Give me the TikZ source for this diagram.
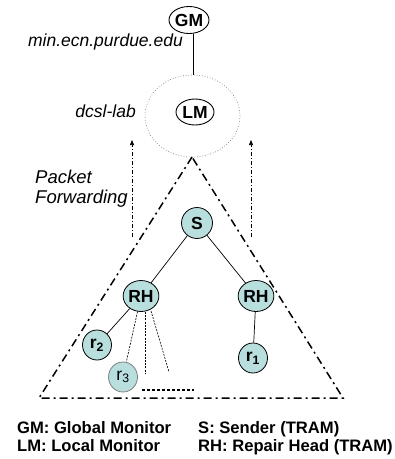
\documentclass[tikz,border=0pt]{standalone}
\usepackage{fontspec}
\setmainfont{Liberation Sans}
\usetikzlibrary{arrows.meta,shapes.geometric}
\definecolor{nodefill}{RGB}{184,222,222}
\tikzset{
  ital/.style={font=\fontsize{17.5}{17.5}\selectfont\itshape, inner sep=0pt},
  mon/.style={draw, ellipse, line width=0.9pt, fill=white, font=\fontsize{17.5}{17.5}\selectfont\bfseries, inner sep=0pt},
  tnode/.style={draw, ellipse, line width=0.8pt, fill=nodefill, font=\fontsize{17.5}{17.5}\selectfont\bfseries, inner sep=0pt},
  leg/.style={font=\fontsize{16.6}{16.6}\selectfont\bfseries, inner sep=0pt, anchor=base west},
  tri/.style={line width=1.5pt, dash pattern=on 8pt off 4pt on 2pt off 4pt},
  fwd/.style={line width=0.6pt, dash pattern=on 4pt off 2pt on 1pt off 2pt, -{Triangle[length=5pt,width=4pt]}},
  sub/.style={line width=0.6pt, dash pattern=on 2pt off 1.2pt},
}
\begin{document}
\begin{tikzpicture}[x=1pt,y=-1pt]
\useasboundingbox (0,0) rectangle (395,459);
% LM domain ellipse
\node[draw=gray, dotted, line width=0.7pt, ellipse, minimum width=95pt, minimum height=82pt, inner sep=0pt] (dom) at (192.5,116) {};
% GM
\node[mon, minimum width=40pt, minimum height=27pt] (gm) at (189,20) {GM};
\node[mon, minimum width=38pt, minimum height=26pt] (lm) at (195,112) {LM};
\draw[line width=0.7pt] (gm.south) ++(4,0) coordinate (gmb) -- (gmb |- dom.north);
\node[ital, anchor=base east] (t1) at (183,46) {min.ecn.purdue.edu};
\node[ital, anchor=base east] (t2) at (136,117) {dcsl-lab};
% forwarding arrows
\coordinate (la) at (132,237);
\coordinate (lb) at (132,140);
\coordinate (ra) at (251,237);
\coordinate (rb) at (251,140);
\draw[fwd] (la) -- (lb);
\draw[fwd] (ra) -- (rb);
\node[font=\fontsize{18.5}{20}\selectfont\itshape, align=left, anchor=base west, inner sep=0pt] (pf) at (35,203) {Packet\\Forwarding};
% triangle
\coordinate (apex) at (192,157);
\coordinate (bl) at (39,398);
\coordinate (br) at (343,398);
\draw[tri] (apex) -- (bl) -- (br) -- cycle;
% tree
\node[tnode, minimum width=31pt, minimum height=31pt] (s) at (197,223) {S};
\node[tnode, minimum width=35pt, minimum height=31pt] (rh1) at (141,296) {RH};
\node[tnode, minimum width=35pt, minimum height=31pt] (rh2) at (256,296) {RH};
\node[tnode, minimum width=29pt, minimum height=30pt] (r2) at (97,345) {r\textsubscript{2}};
\node[tnode, draw=gray, minimum width=29pt, minimum height=30pt, font=\fontsize{17.5}{17.5}\selectfont] (r3) at (123,377) {r\textsubscript{3}};
\node[tnode, minimum width=29pt, minimum height=30pt] (r1) at (253,358) {r\textsubscript{1}};
\draw[line width=0.7pt] (s) -- (rh1);
\draw[line width=0.7pt] (s) -- (rh2);
\draw[line width=0.7pt] (rh1) -- (r2);
\draw[line width=0.7pt] (rh2) -- (r1);
\coordinate (d1) at (145,373);
\coordinate (d2) at (169,372);
\draw[sub] (rh1) -- (r3);
\draw[sub] (rh1.south) ++(4,0) -- (d1);
\draw[sub] (rh1.south) ++(10,-1) -- (d2);
\coordinate (e1) at (142,390);
\coordinate (e2) at (194,390);
\draw[line width=2.5pt, dash pattern=on 2.5pt off 2.5pt] (e1) -- (e2);
% legend
\node[leg] (g1) at (17,433) {GM: Global Monitor};
\node[leg] (g2) at (17,451) {LM: Local Monitor};
\node[leg] (g3) at (198,433) {S: Sender (TRAM)};
\node[leg] (g4) at (198,451) {RH: Repair Head (TRAM)};
\end{tikzpicture}
\end{document}
